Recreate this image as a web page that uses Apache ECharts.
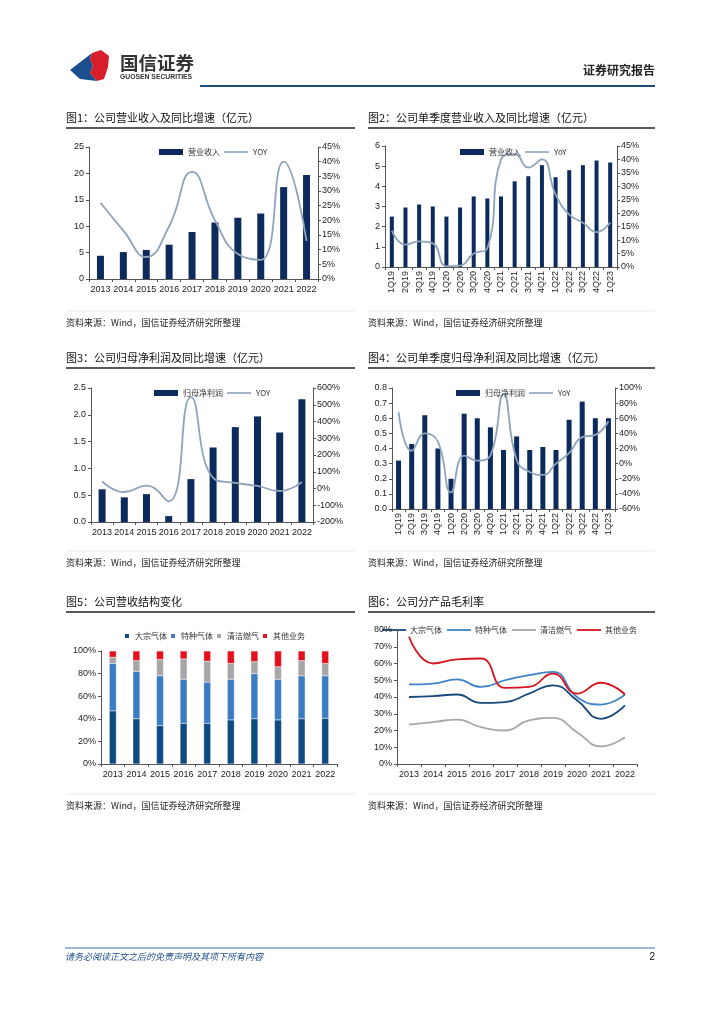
<!DOCTYPE html>
<html>
<head>
<meta charset="utf-8">
<script src="https://cdn.jsdelivr.net/npm/echarts@6/dist/echarts.min.js"></script>
<style>
html,body{margin:0;padding:0;background:#fff;}
#main{position:absolute;left:0;top:0;width:724px;height:1024px;}
</style>
</head>
<body>
<div id="main"></div>
<script>
// ---------- data ----------
const years = ['2013','2014','2015','2016','2017','2018','2019','2020','2021','2022'];
const quarters = ['1Q19','2Q19','3Q19','4Q19','1Q20','2Q20','3Q20','4Q20','1Q21','2Q21','3Q21','4Q21','1Q22','2Q22','3Q22','4Q22','1Q23'];

const revenue = [4.4, 5.1, 5.5, 6.5, 8.9, 10.7, 11.6, 12.4, 17.4, 19.7];
const revenueYoy = [26, 16.5, 7.5, 18, 36.5, 20, 8.5, 6.5, 40, 13];

const qRevenue = [2.5, 2.95, 3.1, 3.0, 2.5, 2.95, 3.5, 3.4, 3.5, 4.25, 4.5, 5.05, 4.45, 4.8, 5.05, 5.28, 5.18];
const qRevenueYoy = [13.5, 8.3, 9.5, 8.8, 0.3, 0.5, 5, 7, 40, 42, 37, 40, 27, 19.5, 16.5, 13, 16.5];

const profit = [0.61, 0.46, 0.52, 0.11, 0.80, 1.39, 1.77, 1.97, 1.67, 2.29];
const profitYoy = [43, -21, 17, -77, 545, 63, 33, 15, -15, 39];

const qProfit = [0.32, 0.43, 0.62, 0.40, 0.20, 0.63, 0.60, 0.54, 0.39, 0.48, 0.39, 0.41, 0.39, 0.59, 0.71, 0.60, 0.60];
const qProfitYoy = [68, 17, 40, 29, -38, 10.5, 4, 11, 92, 5, -11, -15, 0, 14, 35, 38, 56];

const segNames = ['大宗气体','特种气体','清洁燃气','其他业务'];
const mixBulk    = [47, 40, 34, 36, 36, 39, 40, 39, 40, 40.5];
const mixSpecial = [42, 42, 44, 39, 36.5, 36, 40, 36, 38, 37.5];
const mixGas     = [5.5, 9.5, 14.5, 18, 18.5, 14, 10.5, 11, 13.5, 11];
const mixOther   = [5.5, 8.5, 7.5, 7, 9, 11, 9.5, 14, 8.5, 11];

const marginBulk    = [40, 40.5, 41.5, 36.5, 37, 42, 47, 38, 27, 35];
const marginSpecial = [47.5, 48, 50.5, 46, 50, 53, 55, 40, 35.5, 41.5];
const marginGas     = [23.5, 25, 26.5, 22, 20, 26, 27.5, 19, 10.5, 16];
const marginOther   = [76, 60, 62.5, 63, 45.5, 46, 54, 42, 48.5, 41.5];

const titles = ['图1：公司营业收入及同比增速（亿元）','图2：公司单季度营业收入及同比增速（亿元）',
  '图3：公司归母净利润及同比增速（亿元）','图4：公司单季度归母净利润及同比增速（亿元）',
  '图5：公司营收结构变化','图6：公司分产品毛利率'];
const sourceText = '资料来源：Wind，国信证券经济研究所整理';

// ---------- styles ----------
const NAVY = '#0c2a5c';
const YOYC = '#8fa3bb';
const segColors5 = ['#0f4a80','#3b7cc2','#a6a6a6','#e3101e'];
const segColors6 = ['#174a7c','#3f84c6','#a8a8a8','#d7141f'];
const AX = '#555';
const LAB = {fontSize: 9, color: '#222', fontFamily: 'Liberation Sans, Arial, sans-serif'};
const CJK = '"Noto Sans CJK SC", sans-serif';

function yAxis(grid, opt) {
  return Object.assign({
    type: 'value', gridIndex: grid,
    axisLine: {show: true, lineStyle: {color: AX}},
    axisTick: {show: true, length: 3, lineStyle: {color: AX}},
    splitLine: {show: false},
    axisLabel: Object.assign({margin: 5}, LAB)
  }, opt);
}
function xAxis(grid, data, opt) {
  return Object.assign({
    type: 'category', gridIndex: grid, data: data,
    axisLine: {show: true, lineStyle: {color: AX}},
    axisTick: {show: true, length: 3, lineStyle: {color: AX}},
    axisLabel: Object.assign({margin: 6, interval: 0}, LAB)
  }, opt);
}
const pct = '{value}%';

const grids = [
  {left: 89, top: 147, width: 229, height: 132},
  {left: 385, top: 146, width: 232, height: 121},
  {left: 91, top: 388, width: 222, height: 134},
  {left: 392, top: 388, width: 223, height: 121},
  {left: 101, top: 651, width: 236, height: 113},
  {left: 397, top: 630, width: 240, height: 134}
];

const xAxes = [
  xAxis(0, years),
  xAxis(1, quarters, {axisLabel: Object.assign({margin: 4, interval: 0, rotate: 90}, LAB)}),
  xAxis(2, years),
  xAxis(3, quarters, {axisLabel: Object.assign({margin: 4, interval: 0, rotate: 90}, LAB)}),
  xAxis(4, years),
  xAxis(5, years)
];
const yAxes = [
  yAxis(0, {min: 0, max: 25, interval: 5}),
  yAxis(0, {min: 0, max: 45, interval: 5, position: 'right', axisLabel: Object.assign({margin: 4, formatter: pct}, LAB)}),
  yAxis(1, {min: 0, max: 6, interval: 1}),
  yAxis(1, {min: 0, max: 45, interval: 5, position: 'right', axisLabel: Object.assign({margin: 4, formatter: pct}, LAB)}),
  yAxis(2, {min: 0, max: 2.5, interval: 0.5, axisLabel: Object.assign({margin: 5, formatter: v => v.toFixed(1)}, LAB)}),
  yAxis(2, {min: -200, max: 600, interval: 100, position: 'right', axisLabel: Object.assign({margin: 4, formatter: pct}, LAB)}),
  yAxis(3, {min: 0, max: 0.8, interval: 0.1, axisLabel: Object.assign({margin: 5, formatter: v => v.toFixed(1)}, LAB)}),
  yAxis(3, {min: -60, max: 100, interval: 20, position: 'right', axisLabel: Object.assign({margin: 4, formatter: pct}, LAB)}),
  yAxis(4, {min: 0, max: 100, interval: 20, axisLabel: Object.assign({margin: 5, formatter: pct}, LAB)}),
  yAxis(5, {min: 0, max: 80, interval: 10, axisLabel: Object.assign({margin: 5, formatter: pct}, LAB)})
];

function barS(name, x, y, data, w) {
  return {type: 'bar', name: name, xAxisIndex: x, yAxisIndex: y, data: data, barWidth: w,
    itemStyle: {color: NAVY}, silent: true};
}
function yoyS(name, x, y, data) {
  return {type: 'line', name: name, xAxisIndex: x, yAxisIndex: y, data: data, smooth: 0.5,
    symbol: 'none', lineStyle: {color: YOYC, width: 1.8}, itemStyle: {color: YOYC}, silent: true};
}

const series = [
  barS('营业收入', 0, 0, revenue, 7), yoyS('YOY', 0, 1, revenueYoy),
  barS('营业收入', 1, 2, qRevenue, 4), yoyS('YoY', 1, 3, qRevenueYoy),
  barS('归母净利润', 2, 4, profit, 7), yoyS('YOY', 2, 5, profitYoy),
  barS('归母净利润', 3, 6, qProfit, 5), yoyS('YoY', 3, 7, qProfitYoy)
];
[mixBulk, mixSpecial, mixGas, mixOther].forEach((d, i) => {
  series.push({type: 'bar', name: segNames[i], xAxisIndex: 4, yAxisIndex: 8, stack: 'mix', data: d,
    barWidth: 7, itemStyle: {color: segColors5[i], borderColor: '#fff', borderWidth: 0.3}, silent: true});
});
[marginBulk, marginSpecial, marginGas, marginOther].forEach((d, i) => {
  series.push({type: 'line', name: segNames[i], xAxisIndex: 5, yAxisIndex: 9, data: d, smooth: 0.5,
    symbol: 'none', lineStyle: {color: segColors6[i], width: 1.8}, itemStyle: {color: segColors6[i]}, silent: true});
});

const LEGTXT = {fontSize: 8, color: '#333', fontFamily: CJK};
const barIcon = 'path://M0 0H24V6H0Z';
const lineIcon = 'path://M0 0H24V1.6H0Z';
function leg(left, top, items, gap) {
  return {left: left, top: top, itemWidth: 24, itemHeight: 6, itemGap: gap, textStyle: LEGTXT,
    selectedMode: false, data: items};
}
const legends = [
  leg(154, 143, [{name: '营业收入', icon: barIcon, itemStyle: {color: NAVY}}, {name: 'YOY', icon: lineIcon, itemStyle: {color: YOYC}}], 4),
  leg(455, 143, [{name: '营业收入', icon: barIcon, itemStyle: {color: NAVY}}, {name: 'YoY', icon: lineIcon, itemStyle: {color: YOYC}}], 4),
  leg(149, 384, [{name: '归母净利润', icon: barIcon, itemStyle: {color: NAVY}}, {name: 'YOY', icon: lineIcon, itemStyle: {color: YOYC}}], 4),
  leg(451, 384, [{name: '归母净利润', icon: barIcon, itemStyle: {color: NAVY}}, {name: 'YoY', icon: lineIcon, itemStyle: {color: YOYC}}], 4),
  Object.assign(leg(118, 627, segNames.map((n, i) => ({name: n, icon: 'rect', itemStyle: {color: segColors5[i]}})), 2), {itemWidth: 6, itemHeight: 6})
];

// ---------- page graphics ----------
const g = [];
function txt(x, y, t, size, color, extra) {
  g.push({type: 'text', silent: true, style: Object.assign({x: x, y: y, text: t, fontSize: size, fill: color,
    fontFamily: CJK, verticalAlign: 'middle', align: 'left'}, extra || {})});
}
function ln(x1, y1, x2, y2, color, w) {
  g.push({type: 'line', silent: true, shape: {x1: x1, y1: y1, x2: x2, y2: y2}, style: {stroke: color, lineWidth: w}});
}
// legend of chart 6 (line swatches)
const leg6x = [382, 447, 512, 577];
segNames.forEach((n, i) => {
  ln(leg6x[i], 630, leg6x[i] + 24, 630, segColors6[i], 1.8);
  txt(leg6x[i] + 28, 630, n, 8, '#333');
});
// logo
g.push({type: 'polygon', silent: true, shape: {points: [[70,70],[92,53],[90,59],[93,66],[90,73],[97,81],[80,79]]}, style: {fill: '#1b4e8c'}});
g.push({type: 'polygon', silent: true, shape: {points: [[92,53],[101,50],[109,56],[108,67],[104,79],[97,81],[90,73],[93,66],[90,59]]}, style: {fill: '#d81e2a'}});
txt(120, 63, '国信证券', 18.5, '#333', {fontWeight: 'bold'});
txt(120, 77, 'GUOSEN SECURITIES', 6.8, '#333', {fontWeight: 'bold', fontFamily: 'Liberation Sans, Arial, sans-serif'});
txt(655, 70, '证券研究报告', 12, '#222', {fontWeight: 'bold', align: 'right'});
ln(200, 86, 655, 86, '#1f4e79', 2);

// titles
const tpos = [[66,118],[368,118],[66,358],[368,358],[66,602],[368,602]];
tpos.forEach((p, i) => {
  txt(p[0], p[1], titles[i], 11, '#111');
  const x2 = p[0] < 300 ? 355 : 655;
  ln(p[0], p[1] + 10, x2, p[1] + 10, '#222', 1.3);
});
// sources
[[66,323],[368,323],[66,563],[368,563],[66,806],[368,806]].forEach(p => {
  const x2 = p[0] < 300 ? 355 : 655;
  ln(p[0], p[1] - 12, x2, p[1] - 12, '#d0d0d0', 0.5);
  txt(p[0], p[1], sourceText, 9, '#222');
});
// footer
ln(65, 948, 655, 948, '#3a6ea5', 1);
txt(65, 957, '请务必阅读正文之后的免责声明及其项下所有内容', 9, '#1f4e8c', {fontStyle: 'italic'});
txt(655, 957, '2', 10, '#111', {align: 'right', fontFamily: 'Liberation Sans, Arial, sans-serif'});

const chart = echarts.init(document.getElementById('main'));
chart.setOption({
  animation: false,
  backgroundColor: '#fff',
  grid: grids,
  xAxis: xAxes,
  yAxis: yAxes,
  legend: legends,
  series: series,
  graphic: {elements: g}
});
</script>
</body>
</html>
